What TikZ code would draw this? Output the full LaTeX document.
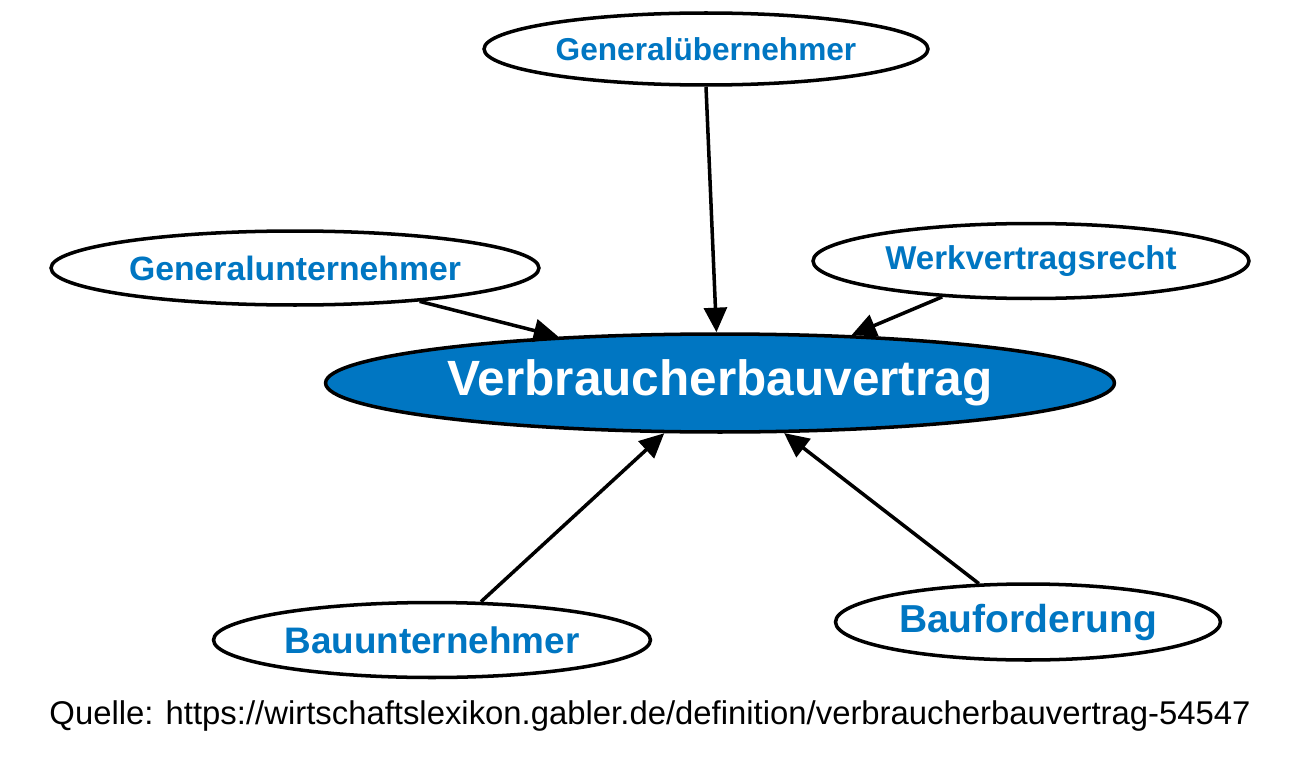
\documentclass[tikz,border=0pt]{standalone}
\usepackage{fontspec}
\setmainfont{Liberation Sans}
\usetikzlibrary{shapes.geometric,arrows.meta}
\definecolor{gblue}{RGB}{0,118,194}
\tikzset{
  leaf/.style={ellipse,draw=black,line width=2pt,fill=white,inner sep=0pt,text=gblue,font=\bfseries},
  hub/.style={ellipse,draw=black,line width=2pt,fill=gblue,inner sep=0pt,text=white,font=\bfseries\fontsize{28.2}{32}\selectfont},
  conn/.style={line width=2pt,-{Triangle[length=14pt,width=13pt]}}
}
\begin{document}
\begin{tikzpicture}[x=0.02cm,y=-0.02cm]
\useasboundingbox (0,0) rectangle (1300,770);
\node[hub,minimum width=15.78cm,minimum height=1.96cm] (vb) at (720,383) {Verbraucherbauvertrag};
\node[leaf,minimum width=8.88cm,minimum height=1.44cm,font=\bfseries\fontsize{18}{22}\selectfont] (gue) at (706,49) {Generalübernehmer};
\node[leaf,minimum width=9.76cm,minimum height=1.48cm,font=\bfseries\fontsize{19.2}{23}\selectfont] (gun) at (295,268) {Generalunternehmer};
\node[leaf,minimum width=8.72cm,minimum height=1.5cm,font=\bfseries\fontsize{18.8}{23}\selectfont] (wvr) at (1031,261) {Werkvertragsrecht};
\node[leaf,minimum width=8.74cm,minimum height=1.5cm,font=\bfseries\fontsize{21}{25}\selectfont] (bun) at (432,640) {Bauunternehmer};
\node[leaf,minimum width=7.7cm,minimum height=1.52cm,font=\bfseries\fontsize{22.2}{26}\selectfont] (bfo) at (1028,622) {Bauforderung};
\node[font=\fontsize{18.7}{22}\selectfont,text=black,inner sep=0pt] (src) at (650,716) {Quelle: https://wirtschaftslexikon.gabler.de/definition/verbraucherbauvertrag-54547};
\draw[conn] (gue.-90) -- (vb.94.7);
\draw[conn] (gun.-15.2) -- (vb.164.7);
\draw[conn] (wvr.202.1) -- (vb.20.6);
\draw[conn] (bun.38.8) -- (vb.222.9);
\draw[conn] (bfo.142.6) -- (vb.-38);
\end{tikzpicture}
\end{document}
